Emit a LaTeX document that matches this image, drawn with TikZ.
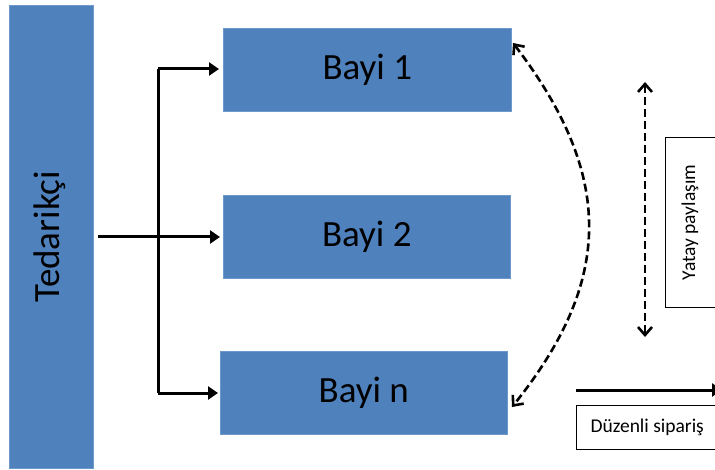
\documentclass[tikz,border=0pt]{standalone}
\usepackage{fontspec}
\setmainfont{Carlito}
\usetikzlibrary{arrows.meta}
\definecolor{obBlue}{HTML}{4F81BD}
\definecolor{obEdge}{HTML}{6E99CC}
\tikzset{
  bluebox/.style={fill=obBlue, draw=obEdge, line width=0.6pt, inner sep=0pt, text=black},
  bigtext/.style={font=\fontsize{37}{40}\selectfont},
  smalltext/.style={font=\fontsize{19.5}{22}\selectfont},
  solidarrow/.style={line width=3pt, -{Triangle[length=10pt,width=13pt]}},
  solidline/.style={line width=3pt},
  dasharrow/.style={line width=2.6pt, dash pattern=on 8pt off 4pt, {Straight Barb[length=8pt,width=14pt]}-{Straight Barb[length=8pt,width=14pt]}},
  labelbox/.style={draw=black, line width=1pt, fill=white, inner sep=0pt}
}
\begin{document}
\begin{tikzpicture}[x=1pt,y=-1pt]
\useasboundingbox (0,0) rectangle (715,470);
\clip (0,0) rectangle (715,470);
% boxes
\node[bluebox, minimum width=84pt, minimum height=463pt, anchor=north west] (ted) at (9,5) {};
\node[rotate=90, bigtext] at ([xshift=-2pt]ted.center) {Tedarikçi};
\node[bluebox, bigtext, minimum width=288pt, minimum height=83pt, anchor=north west] (b1) at (223,28) {Bayi 1};
\node[bluebox, bigtext, minimum width=287pt, minimum height=83pt, anchor=north west] (b2) at (223,195) {Bayi 2};
\node[bluebox, bigtext, minimum width=287pt, minimum height=83pt, anchor=north west] (bn) at (220,351) {Bayi n};
% fork
\coordinate (start) at (98,237);
\coordinate (fk1) at (158,69);
\coordinate (fk2) at (158,237);
\coordinate (fkn) at (158,393);
\draw[solidline] (fk1) -- (fkn);
\draw[solidarrow] (start) -- ([xshift=-3pt]b2.west |- fk2);
\draw[solidarrow] (fk1) -- ([xshift=-4pt]b1.west |- fk1);
\draw[solidarrow] (fkn) -- ([xshift=-2pt]bn.west |- fkn);
% curved dashed arrow
\coordinate (arcA) at (513,43);
\coordinate (arcB) at (512,407);
\draw[dasharrow] (arcA) .. controls (614,175) and (614,280) .. (arcB);
% vertical dashed double arrow
\coordinate (vA) at (645,82);
\coordinate (vB) at (645,337);
\draw[dasharrow] (vA) -- (vB);
% Yatay paylasim box
\node[labelbox, minimum width=60pt, minimum height=170pt, anchor=north west] (yp) at (665,137) {};
\node[rotate=90, smalltext] at ([xshift=25pt]yp.west) {Yatay paylaşım};
% Duzenli siparis
\coordinate (dsA) at (576,390);
\coordinate (dsB) at (722,390);
\draw[solidarrow] (dsA) -- (dsB);
\node[labelbox, minimum width=150pt, minimum height=44pt, anchor=north west] (ds) at (576,405) {};
\node[anchor=west, smalltext] at ([xshift=11pt]ds.west) {Düzenli sipariş};
\end{tikzpicture}
\end{document}
